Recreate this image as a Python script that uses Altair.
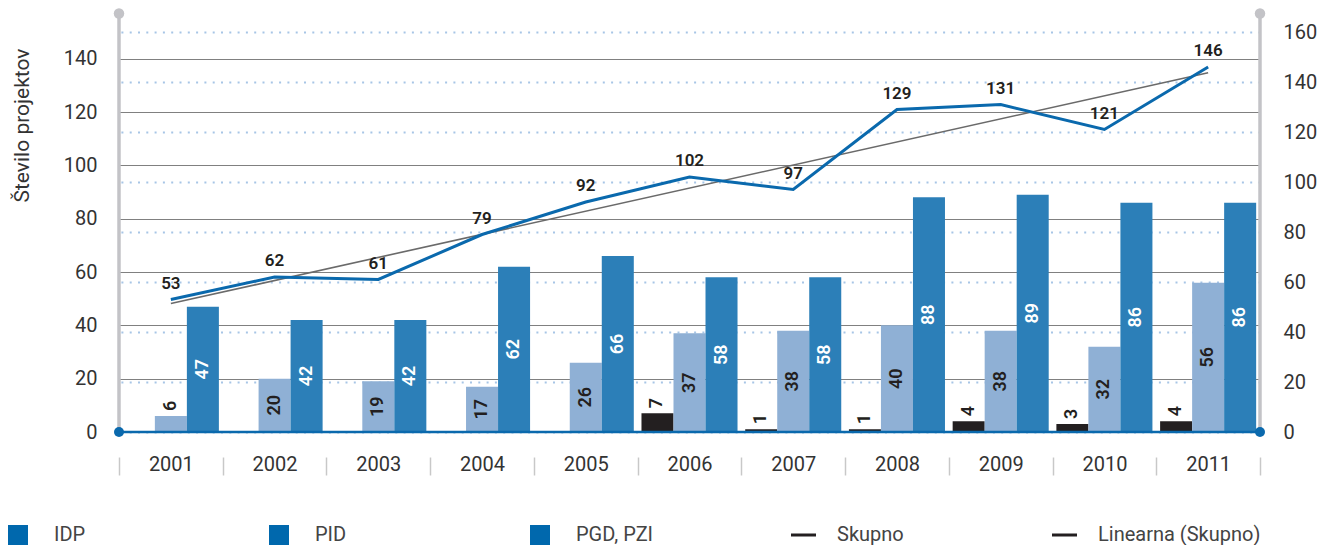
import altair as alt
import pandas as pd

# ---------------- data ----------------
years = ["2001", "2002", "2003", "2004", "2005", "2006", "2007", "2008", "2009", "2010", "2011"]
idp = [0, 0, 0, 0, 0, 7, 1, 1, 4, 3, 4]
pid = [6, 20, 19, 17, 26, 37, 38, 40, 38, 32, 56]
pgd_pzi = [47, 42, 42, 62, 66, 58, 58, 88, 89, 86, 86]
skupno = [53, 62, 61, 79, 92, 102, 97, 129, 131, 121, 146]
series_names = ["IDP", "PID", "PGD, PZI"]
legend_labels = ["IDP", "PID", "PGD, PZI", "Skupno", "Linearna (Skupno)"]
legend_kinds = ["square", "square", "square", "line", "line"]
left_ticks = [0, 20, 40, 60, 80, 100, 120, 140]
right_ticks = [0, 20, 40, 60, 80, 100, 120, 140, 160]
y_title = "Število projektov"

# ---------------- layout / style ----------------
W, H = 1141, 400
FONT = "Roboto"
TXT = "#333333"
BLUE_LINE = "#0a69ad"
AXIS_GRAY = "#c3c3c7"
LEG_LEFT, LEG_STEP = -111, 261

rows = []
for s, vals in zip(series_names, [idp, pid, pgd_pzi]):
    for y, v in zip(years, vals):
        rows.append({"year": y, "series": s, "value": v})
bars_df = pd.DataFrame(rows)
line_df = pd.DataFrame({"year": years, "idx": list(range(1, len(years) + 1)), "skupno": skupno})
legend_df = pd.DataFrame({"label": legend_labels, "kind": legend_kinds})
one = pd.DataFrame({"k": [0]})

color_scale = alt.Scale(domain=series_names, range=["#231f20", "#8fb0d5", "#2c7fb8"])

x_axis = alt.Axis(
    title=None, domain=False, ticks=True, tickBand="extent", tickSize=18,
    tickColor="#c8c8c8", tickWidth=1.5, offset=25, labelPadding=-10.5,
    labelAngle=0, labelAlign="center",
    labelBaseline="middle", labelFont=FONT, labelFontSize=20, labelColor=TXT,
    grid=False,
)
x_bar = alt.X("year:N", sort=years, scale=alt.Scale(paddingInner=0, paddingOuter=0), axis=x_axis)
xoff = alt.XOffset("series:N", sort=series_names, scale=alt.Scale(paddingInner=0, paddingOuter=0.12))

left_axis = alt.Axis(
    orient="left", title=y_title, values=left_ticks, domain=False, ticks=False,
    labelPadding=22, labelFont=FONT, labelFontSize=20, labelColor=TXT,
    grid=True, gridColor="#808080", gridWidth=1.2,
    titleFont=FONT, titleFontSize=21, titleFontWeight="normal", titleColor=TXT,
    titleAngle=270, titleAlign="center", titleBaseline="middle", titleX=-97, titleY=93,
)
y_left_scale = alt.Scale(domain=[0, 150], nice=False, zero=True)

bars = alt.Chart(bars_df).mark_bar().encode(
    x=x_bar,
    xOffset=xoff,
    y=alt.Y("value:Q", scale=y_left_scale, axis=left_axis),
    color=alt.Color("series:N", scale=color_scale, legend=None),
)

lab_in = alt.Chart(bars_df).transform_filter("datum.value >= 10").transform_calculate(
    mid="datum.value / 2",
    tcol="datum.series == 'PGD, PZI' ? 'white' : '#231f20'",
).mark_text(angle=270, align="center", baseline="middle", font=FONT, fontSize=18, fontWeight=600).encode(
    x=x_bar, xOffset=xoff,
    y=alt.Y("mid:Q", scale=y_left_scale, axis=left_axis),
    text=alt.Text("value:Q"),
    color=alt.Color("tcol:N", scale=None, legend=None),
)

lab_out = alt.Chart(bars_df).transform_filter("datum.value > 0 && datum.value < 10").mark_text(
    angle=270, align="left", baseline="middle", dx=5, font=FONT, fontSize=18, fontWeight=600, color="#231f20"
).encode(
    x=x_bar, xOffset=xoff,
    y=alt.Y("value:Q", scale=y_left_scale, axis=left_axis),
    text=alt.Text("value:Q"),
)

bars_group = alt.layer(bars, lab_in, lab_out)

# ---------- line group (right axis) ----------
x_line = alt.X("year:N", sort=years, scale=alt.Scale(type="point", padding=0.5), axis=None)
right_axis = alt.Axis(
    orient="right", title=None, values=right_ticks, domain=False, ticks=False,
    labelPadding=23, labelFont=FONT, labelFontSize=20, labelColor=TXT,
    grid=True, gridColor="#a7c5e6", gridWidth=2, gridDash=[2, 6.3],
)
y_right_scale = alt.Scale(domain=[0, 160], nice=False, zero=True)

trend = alt.Chart(line_df).transform_regression("idx", "skupno").transform_calculate(
    year="toString(2000 + round(datum.idx))"
).mark_line(color="#6a6a6a", strokeWidth=1.6).encode(
    x=x_line, y=alt.Y("skupno:Q", scale=y_right_scale, axis=right_axis)
)
line = alt.Chart(line_df).mark_line(color=BLUE_LINE, strokeWidth=3).encode(
    x=x_line, y=alt.Y("skupno:Q", scale=y_right_scale, axis=right_axis)
)
line_lab = alt.Chart(line_df).mark_text(
    dy=-11, baseline="alphabetic", align="center", font=FONT, fontSize=17, fontWeight=600, color="#231f20"
).encode(
    x=x_line, y=alt.Y("skupno:Q", scale=y_right_scale, axis=right_axis), text="skupno:Q"
)
line_group = alt.layer(trend, line, line_lab)

# ---------- axis decorations ----------
vlines = alt.layer(
    alt.Chart(one).mark_rule(color=AXIS_GRAY, strokeWidth=3.5).encode(
        x=alt.value(0), y=alt.value(-18.5), y2=alt.value(H)),
    alt.Chart(one).mark_rule(color=AXIS_GRAY, strokeWidth=3.5).encode(
        x=alt.value(W), y=alt.value(-18.5), y2=alt.value(H)),
    alt.Chart(one).mark_point(filled=True, shape="circle", size=110, color=AXIS_GRAY, opacity=1).encode(
        x=alt.value(0), y=alt.value(-18.5)),
    alt.Chart(one).mark_point(filled=True, shape="circle", size=110, color=AXIS_GRAY, opacity=1).encode(
        x=alt.value(W), y=alt.value(-18.5)),
)
baseline = alt.layer(
    alt.Chart(one).mark_rule(color=BLUE_LINE, strokeWidth=2.5).encode(
        x=alt.value(0), x2=alt.value(W), y=alt.value(H)),
    alt.Chart(one).mark_point(filled=True, shape="circle", size=100, color=BLUE_LINE, opacity=1).encode(
        x=alt.value(0), y=alt.value(H)),
    alt.Chart(one).mark_point(filled=True, shape="circle", size=100, color=BLUE_LINE, opacity=1).encode(
        x=alt.value(W), y=alt.value(H)),
)

# ---------- legend ----------
x_leg = alt.X(
    "label:N", sort=legend_labels, bandPosition=0,
    scale=alt.Scale(type="band", range=[LEG_LEFT, LEG_LEFT + LEG_STEP * len(legend_labels)],
                    paddingInner=0, paddingOuter=0),
    axis=None,
)
LEG_Y = H + 103
leg_sq = alt.Chart(legend_df).transform_filter("datum.kind == 'square'").mark_point(
    shape="square", filled=True, size=400, color="#0068ad", opacity=1, xOffset=10
).encode(x=x_leg, y=alt.value(LEG_Y))
leg_ln = alt.Chart(legend_df).transform_filter("datum.kind == 'line'").mark_point(
    shape="stroke", filled=False, size=625, color="#231f20", strokeWidth=3, opacity=1, xOffset=12.5
).encode(x=x_leg, y=alt.value(LEG_Y))
leg_tx = alt.Chart(legend_df).mark_text(
    align="left", baseline="middle", dx=46, font=FONT, fontSize=20, color="#444444"
).encode(x=x_leg, y=alt.value(LEG_Y), text="label:N")
legend_group = alt.layer(leg_sq, leg_ln, leg_tx)

chart = alt.layer(
    vlines, bars_group, baseline, line_group, legend_group
).resolve_scale(
    x="independent", y="independent"
).properties(
    width=W, height=H,
    autosize=alt.AutoSizeParams(type="none"),
    padding={"left": 111, "top": 24, "right": 62, "bottom": 113},
).configure_view(stroke=None)

chart.save("out.html", embed_options={"renderer": "svg", "actions": False})
